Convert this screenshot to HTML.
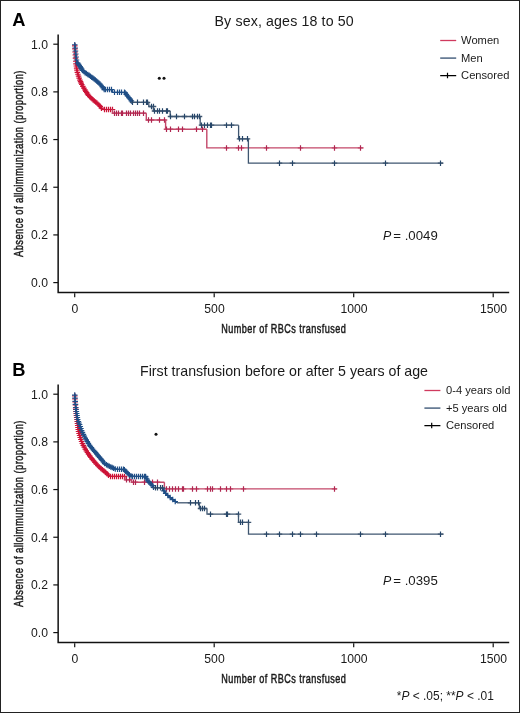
<!DOCTYPE html>
<html><head><meta charset="utf-8"><style>
html,body{margin:0;padding:0;background:#fff;}
body{width:520px;height:713px;overflow:hidden;}
svg{display:block;will-change:transform;}
text{font-family:"Liberation Sans",sans-serif;fill:#1a1a1a;}
.ax{font-size:13.0px;font-weight:normal;stroke:#1a1a1a;stroke-width:0.5px;}
</style></head><body>
<svg width="520" height="713" viewBox="0 0 520 713">
<rect x="0.5" y="0.5" width="519" height="712" fill="#fff" stroke="#222" stroke-width="1"/>
<text x="12.20" y="25.60" style="font-size:18.30px;font-weight:bold;fill:#000">A</text>
<text x="214.50" y="25.80" style="font-size:14.20px" textLength="139.20" lengthAdjust="spacing">By sex, ages 18 to 50</text>
<path d="M58.15 34.50V292.55H509.2" fill="none" stroke="#111" stroke-width="1.5"/>
<path d="M53.3 44.20H58" stroke="#111" stroke-width="1.2"/>
<text x="48.0" y="48.50" style="font-size:12.20px" text-anchor="end">1.0</text>
<path d="M53.3 91.88H58" stroke="#111" stroke-width="1.2"/>
<text x="48.0" y="96.18" style="font-size:12.20px" text-anchor="end">0.8</text>
<path d="M53.3 139.56H58" stroke="#111" stroke-width="1.2"/>
<text x="48.0" y="143.86" style="font-size:12.20px" text-anchor="end">0.6</text>
<path d="M53.3 187.24H58" stroke="#111" stroke-width="1.2"/>
<text x="48.0" y="191.54" style="font-size:12.20px" text-anchor="end">0.4</text>
<path d="M53.3 234.92H58" stroke="#111" stroke-width="1.2"/>
<text x="48.0" y="239.22" style="font-size:12.20px" text-anchor="end">0.2</text>
<path d="M53.3 282.60H58" stroke="#111" stroke-width="1.2"/>
<text x="48.0" y="286.90" style="font-size:12.20px" text-anchor="end">0.0</text>
<path d="M74.70 293.20V297.20" stroke="#111" stroke-width="1.2"/>
<text x="75.00" y="312.70" style="font-size:12.20px" text-anchor="middle">0</text>
<path d="M214.20 293.20V297.20" stroke="#111" stroke-width="1.2"/>
<text x="214.50" y="312.70" style="font-size:12.20px" text-anchor="middle">500</text>
<path d="M353.70 293.20V297.20" stroke="#111" stroke-width="1.2"/>
<text x="354.00" y="312.70" style="font-size:12.20px" text-anchor="middle">1000</text>
<path d="M493.20 293.20V297.20" stroke="#111" stroke-width="1.2"/>
<text x="493.50" y="312.70" style="font-size:12.20px" text-anchor="middle">1500</text>
<text class="ax" letter-spacing="0.65" transform="translate(221.2 332.90) scale(0.7 1)">Number of RBCs transfused</text>
<text class="ax" letter-spacing="0.59" transform="translate(22.9 257.00) rotate(-90) scale(0.72 1)">Absence of alloimmunization (proportion)</text>
<path d="M440.2 40.50h16" stroke="#d03a5e" stroke-width="1.3"/>
<path d="M440.2 58.10h16" stroke="#4d6582" stroke-width="1.5"/>
<path d="M440.2 75.60h16M447.5 72.85v5.5" stroke="#000" stroke-width="1.2"/>
<text x="461.1" y="43.70" style="font-size:11.15px">Women</text>
<text x="461.1" y="61.50" style="font-size:11.15px">Men</text>
<text x="461.1" y="78.60" style="font-size:11.15px">Censored</text>
<text x="383.00" y="240.00" style="font-size:12.40px;font-style:italic">P</text>
<text x="393.30" y="240.00" style="font-size:12.40px" textLength="44.50" lengthAdjust="spacingAndGlyphs">= .0049</text>
<circle cx="159.3" cy="78.2" r="1.5" fill="#111"/>
<circle cx="164.0" cy="78.2" r="1.5" fill="#111"/>
<path d="M74.70 44.20L74.73 44.20L74.73 44.73L74.75 44.73L74.75 45.25L74.78 45.25L74.78 45.78L74.81 45.78L74.81 46.31L74.84 46.31L74.84 46.84L74.86 46.84L74.86 47.36L74.89 47.36L74.89 47.89L74.92 47.89L74.92 48.42L74.95 48.42L74.95 48.95L74.97 48.95L74.97 49.47L75.00 49.47L75.00 50.00L75.03 50.00L75.03 50.50L75.06 50.50L75.06 51.00L75.09 51.00L75.09 51.50L75.11 51.50L75.11 52.00L75.14 52.00L75.14 52.50L75.17 52.50L75.17 53.00L75.20 53.00L75.20 53.50L75.23 53.50L75.23 54.00L75.26 54.00L75.26 54.50L75.29 54.50L75.29 55.00L75.31 55.00L75.31 55.50L75.34 55.50L75.34 56.00L75.37 56.00L75.37 56.50L75.40 56.50L75.40 57.00L75.44 57.00L75.44 57.53L75.48 57.53L75.48 58.07L75.53 58.07L75.53 58.60L75.57 58.60L75.57 59.13L75.61 59.13L75.61 59.67L75.65 59.67L75.65 60.20L75.69 60.20L75.69 60.73L75.73 60.73L75.73 61.27L75.78 61.27L75.78 61.80L75.82 61.80L75.82 62.33L75.86 62.33L75.86 62.87L75.90 62.87L75.90 63.40" fill="none" stroke="#cc1236" stroke-width="1.30"/><path d="M72.03 45.78h5.50M74.78 43.03v5.50M72.20 48.95h5.50M74.95 46.20v5.50M72.36 52.00h5.50M75.11 49.25v5.50M72.54 55.00h5.50M75.29 52.25v5.50M72.73 58.07h5.50M75.48 55.32v5.50M72.98 61.27h5.50M75.73 58.52v5.50" fill="none" stroke="#cc1236" stroke-width="1.20"/><path d="M75.90 63.40L75.90 63.40L75.90 63.40L75.98 63.40L75.98 63.92L76.06 63.92L76.06 64.45L76.14 64.45L76.14 64.97L76.23 64.97L76.23 65.50L76.31 65.50L76.31 66.02L76.39 66.02L76.39 66.55L76.47 66.55L76.47 67.08L76.55 67.08L76.55 67.60L76.63 67.60L76.63 68.12L76.71 68.12L76.71 68.65L76.79 68.65L76.79 69.17L76.88 69.17L76.88 69.70L76.96 69.70L76.96 70.22L77.04 70.22L77.04 70.75L77.12 70.75L77.12 71.27L77.20 71.27L77.20 71.80L77.35 71.80L77.35 72.29L77.50 72.29L77.50 72.77L77.65 72.77L77.65 73.26L77.80 73.26L77.80 73.74L77.95 73.74L77.95 74.23L78.10 74.23L78.10 74.71L78.25 74.71L78.25 75.20L78.40 75.20L78.40 75.69L78.55 75.69L78.55 76.17L78.70 76.17L78.70 76.66L78.85 76.66L78.85 77.14L79.00 77.14L79.00 77.63L79.15 77.63L79.15 78.11L79.30 78.11L79.30 78.60L79.51 78.60L79.51 79.09L79.72 79.09L79.72 79.58L79.92 79.58L79.92 80.07L80.13 80.07L80.13 80.57L80.34 80.57L80.34 81.06L80.55 81.06L80.55 81.55L80.76 81.55L80.76 82.04L80.97 82.04L80.97 82.53L81.17 82.53L81.17 83.03L81.38 83.03L81.38 83.52L81.59 83.52L81.59 84.01L81.80 84.01L81.80 84.50L82.06 84.50L82.06 84.95L82.32 84.95L82.32 85.41L82.58 85.41L82.58 85.86L82.85 85.86L82.85 86.32L83.11 86.32L83.11 86.77L83.37 86.77L83.37 87.22L83.63 87.22L83.63 87.68L83.89 87.68L83.89 88.13L84.15 88.13L84.15 88.58L84.42 88.58L84.42 89.04L84.68 89.04L84.68 89.49L84.94 89.49L84.94 89.95L85.20 89.95L85.20 90.40L85.50 90.40L85.50 90.85L85.80 90.85L85.80 91.31L86.10 91.31L86.10 91.76L86.40 91.76L86.40 92.22L86.70 92.22L86.70 92.67L87.00 92.67L87.00 93.13L87.30 93.13L87.30 93.58L87.60 93.58L87.60 94.04L87.90 94.04L87.90 94.49L88.20 94.49L88.20 94.95L88.50 94.95L88.50 95.40L88.88 95.40L88.88 95.78L89.26 95.78L89.26 96.16L89.65 96.16L89.65 96.55L90.03 96.55L90.03 96.93L90.41 96.93L90.41 97.31L90.79 97.31L90.79 97.69L91.17 97.69L91.17 98.07L91.55 98.07L91.55 98.45L91.94 98.45L91.94 98.84L92.32 98.84L92.32 99.22L92.70 99.22L92.70 99.60L93.12 99.60L93.12 99.94L93.54 99.94L93.54 100.28L93.96 100.28L93.96 100.62L94.38 100.62L94.38 100.96L94.80 100.96L94.80 101.30L95.22 101.30L95.22 101.64L95.64 101.64L95.64 101.98L96.06 101.98L96.06 102.32L96.48 102.32L96.48 102.66L96.90 102.66L96.90 103.00L97.28 103.00L97.28 103.38L97.66 103.38L97.66 103.76L98.03 103.76L98.03 104.13L98.41 104.13L98.41 104.51L98.79 104.51L98.79 104.89L99.17 104.89L99.17 105.27L99.54 105.27L99.54 105.64L99.92 105.64L99.92 106.02L100.30 106.02L100.30 106.40L100.59 106.40L100.59 106.84L100.87 106.84L100.87 107.29L101.16 107.29L101.16 107.73L101.44 107.73L101.44 108.17L101.73 108.17L101.73 108.61L102.01 108.61L102.01 109.06L102.30 109.06L102.30 109.50" fill="none" stroke="#cc1236" stroke-width="1.30"/><path d="M73.23 63.92h5.50M75.98 61.17v5.50M73.56 66.02h5.50M76.31 63.27v5.50M73.88 68.12h5.50M76.63 65.38v5.50M74.21 70.22h5.50M76.96 67.47v5.50M74.60 72.29h5.50M77.35 69.54v5.50M75.20 74.23h5.50M77.95 71.48v5.50M75.80 76.17h5.50M78.55 73.42v5.50M76.40 78.11h5.50M79.15 75.36v5.50M77.17 80.07h5.50M79.92 77.32v5.50M77.80 81.55h5.50M80.55 78.80v5.50M78.42 83.03h5.50M81.17 80.28v5.50M79.05 84.50h5.50M81.80 81.75v5.50M80.10 86.32h5.50M82.85 83.57v5.50M81.14 88.13h5.50M83.89 85.38v5.50M82.19 89.95h5.50M84.94 87.20v5.50M83.05 91.31h5.50M85.80 88.56v5.50M83.95 92.67h5.50M86.70 89.92v5.50M84.85 94.04h5.50M87.60 91.29v5.50M85.75 95.40h5.50M88.50 92.65v5.50M86.90 96.55h5.50M89.65 93.80v5.50M88.04 97.69h5.50M90.79 94.94v5.50M89.19 98.84h5.50M91.94 96.09v5.50M90.37 99.94h5.50M93.12 97.19v5.50M91.63 100.96h5.50M94.38 98.21v5.50M92.89 101.98h5.50M95.64 99.23v5.50M94.15 103.00h5.50M96.90 100.25v5.50M95.28 104.13h5.50M98.03 101.38v5.50M96.42 105.27h5.50M99.17 102.52v5.50M97.55 106.40h5.50M100.30 103.65v5.50M98.69 108.17h5.50M101.44 105.42v5.50" fill="none" stroke="#cc1236" stroke-width="1.20"/><path d="M102.30 109.50L102.30 109.50L102.30 109.50L112.50 109.50" fill="none" stroke="#cc1236" stroke-width="1.30"/><path d="M101.75 109.50h5.50M104.50 106.75v5.50M103.75 109.50h5.50M106.50 106.75v5.50M105.75 109.50h5.50M108.50 106.75v5.50M107.75 109.50h5.50M110.50 106.75v5.50M109.75 109.50h5.50M112.50 106.75v5.50" fill="none" stroke="#cc1236" stroke-width="1.20"/><path d="M112.50 109.50L112.50 109.50L112.50 113.30L146.30 113.30" fill="none" stroke="#c4486a" stroke-width="1.40"/><path d="M111.75 113.30h5.50M113.75 113.30h5.50M115.75 113.30h5.50M118.75 113.30h5.50M119.75 113.30h5.50M123.75 113.30h5.50M125.75 113.30h5.50M127.75 113.30h5.50M130.75 113.30h5.50M132.75 113.30h5.50M134.75 113.30h5.50M136.75 113.30h5.50M140.75 113.30h5.50" fill="none" stroke="#c4486a" stroke-width="1.40"/><path d="M114.50 110.55v5.50M116.50 110.55v5.50M118.50 110.55v5.50M121.50 110.55v5.50M122.50 110.55v5.50M126.50 110.55v5.50M128.50 110.55v5.50M130.50 110.55v5.50M133.50 110.55v5.50M135.50 110.55v5.50M137.50 110.55v5.50M139.50 110.55v5.50M143.50 110.55v5.50" fill="none" stroke="#b02650" stroke-width="1.20"/><path d="M146.30 113.30L146.30 113.30L146.30 120.00L165.60 120.00" fill="none" stroke="#c4486a" stroke-width="1.40"/><path d="M145.75 120.00h5.50M148.75 120.00h5.50M156.75 120.00h5.50M161.75 120.00h5.50" fill="none" stroke="#c4486a" stroke-width="1.40"/><path d="M148.50 117.25v5.50M151.50 117.25v5.50M159.50 117.25v5.50M164.50 117.25v5.50" fill="none" stroke="#b02650" stroke-width="1.20"/><path d="M165.60 120.00L165.60 120.00L165.60 129.30L206.80 129.30" fill="none" stroke="#c4486a" stroke-width="1.40"/><path d="M163.75 129.30h5.50M167.75 129.30h5.50M175.75 129.30h5.50M179.75 129.30h5.50M193.75 129.30h5.50M199.75 129.30h5.50" fill="none" stroke="#c4486a" stroke-width="1.40"/><path d="M166.50 126.55v5.50M170.50 126.55v5.50M178.50 126.55v5.50M182.50 126.55v5.50M196.50 126.55v5.50M202.50 126.55v5.50" fill="none" stroke="#b02650" stroke-width="1.20"/><path d="M206.80 129.30L206.80 129.30L206.80 147.90L363.45 147.90" fill="none" stroke="#c4486a" stroke-width="1.40"/><path d="M223.75 147.90h5.50M235.75 147.90h5.50M238.75 147.90h5.50M263.75 147.90h5.50M297.75 147.90h5.50M331.75 147.90h5.50M357.75 147.90h5.50" fill="none" stroke="#c4486a" stroke-width="1.40"/><path d="M226.50 145.15v5.50M238.50 145.15v5.50M241.50 145.15v5.50M266.50 145.15v5.50M300.50 145.15v5.50M334.50 145.15v5.50M360.50 145.15v5.50" fill="none" stroke="#b02650" stroke-width="1.20"/>
<path d="M74.70 44.20L74.77 44.20L74.77 44.74L74.84 44.74L74.84 45.29L74.91 45.29L74.91 45.83L74.99 45.83L74.99 46.37L75.06 46.37L75.06 46.91L75.13 46.91L75.13 47.46L75.20 47.46L75.20 48.00L75.25 48.00L75.25 48.50L75.30 48.50L75.30 49.00L75.35 49.00L75.35 49.50L75.40 49.50L75.40 50.00L75.45 50.00L75.45 50.50L75.50 50.50L75.50 51.00L75.55 51.00L75.55 51.50L75.60 51.50L75.60 52.00L75.65 52.00L75.65 52.50L75.70 52.50L75.70 53.00L75.75 53.00L75.75 53.50L75.80 53.50L75.80 54.00L75.85 54.00L75.85 54.50L75.90 54.50L75.90 55.00L75.95 55.00L75.95 55.50L76.00 55.50L76.00 56.00L76.06 56.00L76.06 56.50L76.12 56.50L76.12 57.00L76.19 57.00L76.19 57.50L76.25 57.50L76.25 58.00L76.31 58.00L76.31 58.50L76.38 58.50L76.38 59.00L76.44 59.00L76.44 59.50L76.50 59.50L76.50 60.00L76.66 60.00L76.66 60.50L76.82 60.50L76.82 61.00L76.98 61.00L76.98 61.50L77.14 61.50L77.14 62.00L77.30 62.00L77.30 62.50" fill="none" stroke="#1f4e86" stroke-width="1.30"/><path d="M72.02 44.74h5.50M74.77 41.99v5.50M72.45 48.00h5.50M75.20 45.25v5.50M72.75 51.00h5.50M75.50 48.25v5.50M73.05 54.00h5.50M75.80 51.25v5.50M73.38 57.00h5.50M76.12 54.25v5.50M73.75 60.00h5.50M76.50 57.25v5.50" fill="none" stroke="#1f4e86" stroke-width="1.20"/><path d="M77.30 62.50L77.30 62.50L77.30 62.50L77.59 62.50L77.59 62.91L77.88 62.91L77.88 63.33L78.16 63.33L78.16 63.74L78.45 63.74L78.45 64.15L78.74 64.15L78.74 64.56L79.02 64.56L79.02 64.97L79.31 64.97L79.31 65.39L79.60 65.39L79.60 65.80L79.87 65.80L79.87 66.23L80.15 66.23L80.15 66.65L80.42 66.65L80.42 67.08L80.69 67.08L80.69 67.51L80.96 67.51L80.96 67.94L81.24 67.94L81.24 68.36L81.51 68.36L81.51 68.79L81.78 68.79L81.78 69.22L82.05 69.22L82.05 69.65L82.33 69.65L82.33 70.07L82.60 70.07L82.60 70.50L83.01 70.50L83.01 70.86L83.43 70.86L83.43 71.21L83.84 71.21L83.84 71.57L84.26 71.57L84.26 71.93L84.67 71.93L84.67 72.29L85.09 72.29L85.09 72.64L85.50 72.64L85.50 73.00L85.96 73.00L85.96 73.29L86.41 73.29L86.41 73.58L86.87 73.58L86.87 73.87L87.32 73.87L87.32 74.16L87.78 74.16L87.78 74.44L88.23 74.44L88.23 74.73L88.69 74.73L88.69 75.02L89.14 75.02L89.14 75.31L89.60 75.31L89.60 75.60L90.01 75.60L90.01 75.91L90.43 75.91L90.43 76.23L90.84 76.23L90.84 76.54L91.26 76.54L91.26 76.86L91.67 76.86L91.67 77.17L92.09 77.17L92.09 77.49L92.50 77.49L92.50 77.80L92.91 77.80L92.91 78.11L93.33 78.11L93.33 78.43L93.74 78.43L93.74 78.74L94.16 78.74L94.16 79.06L94.57 79.06L94.57 79.37L94.99 79.37L94.99 79.69L95.40 79.69L95.40 80.00L95.78 80.00L95.78 80.34L96.17 80.34L96.17 80.68L96.55 80.68L96.55 81.02L96.94 81.02L96.94 81.35L97.32 81.35L97.32 81.69L97.71 81.69L97.71 82.03L98.09 82.03L98.09 82.37L98.48 82.37L98.48 82.71L98.86 82.71L98.86 83.05L99.25 83.05L99.25 83.38L99.63 83.38L99.63 83.72L100.02 83.72L100.02 84.06L100.40 84.06L100.40 84.40L100.74 84.40L100.74 84.83L101.09 84.83L101.09 85.27L101.43 85.27L101.43 85.70L101.78 85.70L101.78 86.13L102.12 86.13L102.12 86.57L102.47 86.57L102.47 87.00L102.81 87.00L102.81 87.43L103.16 87.43L103.16 87.87L103.50 87.87L103.50 88.30L103.85 88.30L103.85 88.95L104.20 88.95L104.20 89.60" fill="none" stroke="#1f4e86" stroke-width="1.30"/><path d="M74.84 62.91h5.50M77.59 60.16v5.50M75.70 64.15h5.50M78.45 61.40v5.50M76.56 65.39h5.50M79.31 62.64v5.50M77.40 66.65h5.50M80.15 63.90v5.50M78.21 67.94h5.50M80.96 65.19v5.50M79.03 69.22h5.50M81.78 66.47v5.50M79.85 70.50h5.50M82.60 67.75v5.50M81.09 71.57h5.50M83.84 68.82v5.50M82.34 72.64h5.50M85.09 69.89v5.50M83.66 73.58h5.50M86.41 70.83v5.50M85.03 74.44h5.50M87.78 71.69v5.50M86.39 75.31h5.50M89.14 72.56v5.50M87.68 76.23h5.50M90.43 73.48v5.50M88.92 77.17h5.50M91.67 74.42v5.50M90.16 78.11h5.50M92.91 75.36v5.50M91.41 79.06h5.50M94.16 76.31v5.50M92.65 80.00h5.50M95.40 77.25v5.50M93.80 81.02h5.50M96.55 78.27v5.50M94.96 82.03h5.50M97.71 79.28v5.50M96.11 83.05h5.50M98.86 80.30v5.50M97.27 84.06h5.50M100.02 81.31v5.50M98.34 85.27h5.50M101.09 82.52v5.50M99.37 86.57h5.50M102.12 83.82v5.50M100.41 87.87h5.50M103.16 85.12v5.50M101.45 89.60h5.50M104.20 86.85v5.50" fill="none" stroke="#1f4e86" stroke-width="1.20"/><path d="M104.20 89.60L104.20 89.60L104.20 89.60L112.30 89.60" fill="none" stroke="#1f4e86" stroke-width="1.30"/><path d="M102.75 89.60h5.50M105.50 86.85v5.50M104.75 89.60h5.50M107.50 86.85v5.50M106.75 89.60h5.50M109.50 86.85v5.50M108.75 89.60h5.50M111.50 86.85v5.50" fill="none" stroke="#1f4e86" stroke-width="1.20"/><path d="M112.30 89.60L112.30 89.60L112.30 92.30L124.70 92.30" fill="none" stroke="#1f4e86" stroke-width="1.30"/><path d="M111.75 92.30h5.50M114.50 89.55v5.50M114.75 92.30h5.50M117.50 89.55v5.50M116.75 92.30h5.50M119.50 89.55v5.50M118.75 92.30h5.50M121.50 89.55v5.50M121.75 92.30h5.50M124.50 89.55v5.50" fill="none" stroke="#1f4e86" stroke-width="1.20"/><path d="M124.70 92.30L124.70 92.30L124.70 92.30L125.01 92.30L125.01 92.71L125.32 92.71L125.32 93.12L125.63 93.12L125.63 93.53L125.94 93.53L125.94 93.94L126.26 93.94L126.26 94.36L126.57 94.36L126.57 94.77L126.88 94.77L126.88 95.18L127.19 95.18L127.19 95.59L127.50 95.59L127.50 96.00L127.85 96.00L127.85 96.40L128.20 96.40L128.20 96.80L128.55 96.80L128.55 97.20L128.90 97.20L128.90 97.60L129.25 97.60L129.25 98.00L129.60 98.00L129.60 98.40L129.95 98.40L129.95 98.80L130.30 98.80L130.30 99.20L130.65 99.20L130.65 99.60L131.00 99.60L131.00 100.00L131.20 100.00L131.20 100.46L131.40 100.46L131.40 100.92L131.60 100.92L131.60 101.38L131.80 101.38L131.80 101.84L132.00 101.84L132.00 102.30" fill="none" stroke="#1f4e86" stroke-width="1.30"/><path d="M122.26 92.71h5.50M125.01 89.96v5.50M123.51 94.36h5.50M126.26 91.61v5.50M124.75 96.00h5.50M127.50 93.25v5.50M126.15 97.60h5.50M128.90 94.85v5.50M127.55 99.20h5.50M130.30 96.45v5.50M128.65 100.92h5.50M131.40 98.17v5.50" fill="none" stroke="#1f4e86" stroke-width="1.20"/><path d="M132.00 102.30L132.00 102.30L132.00 102.30L148.80 102.30" fill="none" stroke="#3f5670" stroke-width="1.30"/><path d="M129.75 102.30h5.50M134.75 102.30h5.50M140.75 102.30h5.50M143.75 102.30h5.50M144.75 102.30h5.50" fill="none" stroke="#3f5670" stroke-width="1.30"/><path d="M132.50 99.55v5.50M137.50 99.55v5.50M143.50 99.55v5.50M146.50 99.55v5.50M147.50 99.55v5.50" fill="none" stroke="#264669" stroke-width="1.20"/><path d="M148.80 102.30L148.80 102.30L148.80 106.50L153.40 106.50" fill="none" stroke="#3f5670" stroke-width="1.30"/><path d="M148.75 106.50h5.50M150.75 106.50h5.50" fill="none" stroke="#3f5670" stroke-width="1.30"/><path d="M151.50 103.75v5.50M153.50 103.75v5.50" fill="none" stroke="#264669" stroke-width="1.20"/><path d="M153.40 106.50L153.40 106.50L153.40 111.00L170.20 111.00" fill="none" stroke="#3f5670" stroke-width="1.30"/><path d="M151.75 111.00h5.50M154.75 111.00h5.50M156.75 111.00h5.50M159.75 111.00h5.50M163.75 111.00h5.50M164.75 111.00h5.50" fill="none" stroke="#3f5670" stroke-width="1.30"/><path d="M154.50 108.25v5.50M157.50 108.25v5.50M159.50 108.25v5.50M162.50 108.25v5.50M166.50 108.25v5.50M167.50 108.25v5.50" fill="none" stroke="#264669" stroke-width="1.20"/><path d="M170.20 111.00L170.20 111.00L170.20 116.50L200.20 116.50" fill="none" stroke="#3f5670" stroke-width="1.30"/><path d="M167.75 116.50h5.50M173.75 116.50h5.50M181.75 116.50h5.50M189.75 116.50h5.50M191.75 116.50h5.50M194.75 116.50h5.50M196.75 116.50h5.50" fill="none" stroke="#3f5670" stroke-width="1.30"/><path d="M170.50 113.75v5.50M176.50 113.75v5.50M184.50 113.75v5.50M192.50 113.75v5.50M194.50 113.75v5.50M197.50 113.75v5.50M199.50 113.75v5.50" fill="none" stroke="#264669" stroke-width="1.20"/><path d="M200.20 116.50L200.20 116.50L200.20 125.20L238.60 125.20" fill="none" stroke="#3f5670" stroke-width="1.30"/><path d="M198.75 125.20h5.50M201.75 125.20h5.50M204.75 125.20h5.50M207.75 125.20h5.50M208.75 125.20h5.50M223.75 125.20h5.50M228.75 125.20h5.50" fill="none" stroke="#3f5670" stroke-width="1.30"/><path d="M201.50 122.45v5.50M204.50 122.45v5.50M207.50 122.45v5.50M210.50 122.45v5.50M211.50 122.45v5.50M226.50 122.45v5.50M231.50 122.45v5.50" fill="none" stroke="#264669" stroke-width="1.20"/><path d="M238.60 125.20L238.60 125.20L238.60 138.80L248.40 138.80" fill="none" stroke="#3f5670" stroke-width="1.30"/><path d="M236.75 138.80h5.50M239.75 138.80h5.50M244.75 138.80h5.50" fill="none" stroke="#3f5670" stroke-width="1.30"/><path d="M239.50 136.05v5.50M242.50 136.05v5.50M247.50 136.05v5.50" fill="none" stroke="#264669" stroke-width="1.20"/><path d="M248.40 138.80L248.40 138.80L248.40 163.20L443.25 163.20" fill="none" stroke="#3f5670" stroke-width="1.30"/><path d="M276.75 163.20h5.50M289.75 163.20h5.50M331.75 163.20h5.50M382.75 163.20h5.50M437.75 163.20h5.50" fill="none" stroke="#3f5670" stroke-width="1.30"/><path d="M279.50 160.45v5.50M292.50 160.45v5.50M334.50 160.45v5.50M385.50 160.45v5.50M440.50 160.45v5.50" fill="none" stroke="#264669" stroke-width="1.20"/>
<text x="12.20" y="375.60" style="font-size:18.30px;font-weight:bold;fill:#000">B</text>
<text x="140.00" y="375.90" style="font-size:14.20px" textLength="288.00" lengthAdjust="spacing">First transfusion before or after 5 years of age</text>
<path d="M58.15 384.50V642.55H509.2" fill="none" stroke="#111" stroke-width="1.5"/>
<path d="M53.3 394.20H58" stroke="#111" stroke-width="1.2"/>
<text x="48.0" y="398.50" style="font-size:12.20px" text-anchor="end">1.0</text>
<path d="M53.3 441.88H58" stroke="#111" stroke-width="1.2"/>
<text x="48.0" y="446.18" style="font-size:12.20px" text-anchor="end">0.8</text>
<path d="M53.3 489.56H58" stroke="#111" stroke-width="1.2"/>
<text x="48.0" y="493.86" style="font-size:12.20px" text-anchor="end">0.6</text>
<path d="M53.3 537.24H58" stroke="#111" stroke-width="1.2"/>
<text x="48.0" y="541.54" style="font-size:12.20px" text-anchor="end">0.4</text>
<path d="M53.3 584.92H58" stroke="#111" stroke-width="1.2"/>
<text x="48.0" y="589.22" style="font-size:12.20px" text-anchor="end">0.2</text>
<path d="M53.3 632.60H58" stroke="#111" stroke-width="1.2"/>
<text x="48.0" y="636.90" style="font-size:12.20px" text-anchor="end">0.0</text>
<path d="M74.70 643.20V647.20" stroke="#111" stroke-width="1.2"/>
<text x="75.00" y="662.70" style="font-size:12.20px" text-anchor="middle">0</text>
<path d="M214.20 643.20V647.20" stroke="#111" stroke-width="1.2"/>
<text x="214.50" y="662.70" style="font-size:12.20px" text-anchor="middle">500</text>
<path d="M353.70 643.20V647.20" stroke="#111" stroke-width="1.2"/>
<text x="354.00" y="662.70" style="font-size:12.20px" text-anchor="middle">1000</text>
<path d="M493.20 643.20V647.20" stroke="#111" stroke-width="1.2"/>
<text x="493.50" y="662.70" style="font-size:12.20px" text-anchor="middle">1500</text>
<text class="ax" letter-spacing="0.65" transform="translate(221.2 682.90) scale(0.7 1)">Number of RBCs transfused</text>
<text class="ax" letter-spacing="0.59" transform="translate(22.9 607.00) rotate(-90) scale(0.72 1)">Absence of alloimmunization (proportion)</text>
<path d="M424.4 390.50h16" stroke="#d03a5e" stroke-width="1.3"/>
<path d="M424.4 408.10h16" stroke="#4d6582" stroke-width="1.5"/>
<path d="M424.4 425.60h16M431.7 422.85v5.5" stroke="#000" stroke-width="1.2"/>
<text x="446.0" y="393.70" style="font-size:11.15px">0-4 years old</text>
<text x="446.0" y="411.50" style="font-size:11.15px">+5 years old</text>
<text x="446.0" y="428.60" style="font-size:11.15px">Censored</text>
<text x="383.00" y="585.00" style="font-size:12.40px;font-style:italic">P</text>
<text x="393.30" y="585.00" style="font-size:12.40px" textLength="44.50" lengthAdjust="spacingAndGlyphs">= .0395</text>
<circle cx="156.0" cy="434.3" r="1.5" fill="#111"/>
<path d="M74.70 394.50L74.73 394.50L74.73 395.00L74.76 395.00L74.76 395.50L74.79 395.50L74.79 396.00L74.82 396.00L74.82 396.50L74.85 396.50L74.85 397.00L74.88 397.00L74.88 397.50L74.92 397.50L74.92 398.00L74.95 398.00L74.95 398.50L74.98 398.50L74.98 399.00L75.01 399.00L75.01 399.50L75.04 399.50L75.04 400.00L75.07 400.00L75.07 400.50L75.10 400.50L75.10 401.00L75.14 401.00L75.14 401.50L75.18 401.50L75.18 402.00L75.22 402.00L75.22 402.50L75.26 402.50L75.26 403.00L75.30 403.00L75.30 403.50L75.34 403.50L75.34 404.00L75.38 404.00L75.38 404.50L75.42 404.50L75.42 405.00L75.46 405.00L75.46 405.50L75.50 405.50L75.50 406.00L75.53 406.00L75.53 406.50L75.57 406.50L75.57 407.00L75.60 407.00L75.60 407.50L75.63 407.50L75.63 408.00L75.67 408.00L75.67 408.50L75.70 408.50L75.70 409.00" fill="none" stroke="#cc1236" stroke-width="1.30"/><path d="M72.04 396.00h5.50M74.79 393.25v5.50M72.23 399.00h5.50M74.98 396.25v5.50M72.43 402.00h5.50M75.18 399.25v5.50M72.67 405.00h5.50M75.42 402.25v5.50M72.88 408.00h5.50M75.63 405.25v5.50" fill="none" stroke="#cc1236" stroke-width="1.20"/><path d="M75.70 409.00L75.70 409.00L75.70 409.00L75.75 409.00L75.75 409.50L75.80 409.50L75.80 410.00L75.85 410.00L75.85 410.50L75.90 410.50L75.90 411.00L75.95 411.00L75.95 411.50L76.00 411.50L76.00 412.00L76.05 412.00L76.05 412.50L76.10 412.50L76.10 413.00L76.15 413.00L76.15 413.50L76.20 413.50L76.20 414.00L76.25 414.00L76.25 414.50L76.30 414.50L76.30 415.00L76.37 415.00L76.37 415.50L76.44 415.50L76.44 416.00L76.51 416.00L76.51 416.50L76.58 416.50L76.58 417.00L76.65 417.00L76.65 417.50L76.72 417.50L76.72 418.00L76.79 418.00L76.79 418.50L76.86 418.50L76.86 419.00L76.93 419.00L76.93 419.50L77.00 419.50L77.00 420.00L77.06 420.00L77.06 420.50L77.12 420.50L77.12 421.00L77.18 421.00L77.18 421.50L77.24 421.50L77.24 422.00L77.30 422.00L77.30 422.50L77.36 422.50L77.36 423.00L77.42 423.00L77.42 423.50L77.48 423.50L77.48 424.00L77.54 424.00L77.54 424.50L77.60 424.50L77.60 425.00L77.67 425.00L77.67 425.50L77.74 425.50L77.74 426.00L77.81 426.00L77.81 426.50L77.88 426.50L77.88 427.00L77.95 427.00L77.95 427.50L78.02 427.50L78.02 428.00L78.08 428.00L78.08 428.50L78.15 428.50L78.15 429.00L78.22 429.00L78.22 429.50L78.29 429.50L78.29 430.00L78.36 430.00L78.36 430.50L78.43 430.50L78.43 431.00L78.50 431.00L78.50 431.50L78.64 431.50L78.64 432.00L78.78 432.00L78.78 432.50L78.92 432.50L78.92 433.00L79.05 433.00L79.05 433.50L79.19 433.50L79.19 434.00L79.33 434.00L79.33 434.50L79.47 434.50L79.47 435.00L79.61 435.00L79.61 435.50L79.75 435.50L79.75 436.00L79.88 436.00L79.88 436.50L80.02 436.50L80.02 437.00L80.16 437.00L80.16 437.50L80.30 437.50L80.30 438.00L80.48 438.00L80.48 438.50L80.67 438.50L80.67 439.00L80.85 439.00L80.85 439.50L81.03 439.50L81.03 440.00L81.22 440.00L81.22 440.50L81.40 440.50L81.40 441.00L81.58 441.00L81.58 441.50L81.77 441.50L81.77 442.00L81.95 442.00L81.95 442.50L82.13 442.50L82.13 443.00L82.32 443.00L82.32 443.50L82.50 443.50L82.50 444.00L82.75 444.00L82.75 444.46L83.00 444.46L83.00 444.92L83.25 444.92L83.25 445.38L83.50 445.38L83.50 445.83L83.75 445.83L83.75 446.29L84.00 446.29L84.00 446.75L84.25 446.75L84.25 447.21L84.50 447.21L84.50 447.67L84.75 447.67L84.75 448.12L85.00 448.12L85.00 448.58L85.25 448.58L85.25 449.04L85.50 449.04L85.50 449.50L85.77 449.50L85.77 449.93L86.05 449.93L86.05 450.35L86.32 450.35L86.32 450.78L86.59 450.78L86.59 451.21L86.86 451.21L86.86 451.64L87.14 451.64L87.14 452.06L87.41 452.06L87.41 452.49L87.68 452.49L87.68 452.92L87.95 452.92L87.95 453.35L88.23 453.35L88.23 453.77L88.50 453.77L88.50 454.20L88.80 454.20L88.80 454.61L89.10 454.61L89.10 455.02L89.40 455.02L89.40 455.43L89.70 455.43L89.70 455.84L90.00 455.84L90.00 456.25L90.30 456.25L90.30 456.66L90.60 456.66L90.60 457.07L90.90 457.07L90.90 457.48L91.20 457.48L91.20 457.89L91.50 457.89L91.50 458.30L91.84 458.30L91.84 458.71L92.19 458.71L92.19 459.11L92.53 459.11L92.53 459.52L92.87 459.52L92.87 459.93L93.21 459.93L93.21 460.34L93.56 460.34L93.56 460.74L93.90 460.74L93.90 461.15L94.24 461.15L94.24 461.56L94.59 461.56L94.59 461.96L94.93 461.96L94.93 462.37L95.27 462.37L95.27 462.78L95.61 462.78L95.61 463.19L95.96 463.19L95.96 463.59L96.30 463.59L96.30 464.00L96.68 464.00L96.68 464.37L97.05 464.37L97.05 464.74L97.43 464.74L97.43 465.11L97.81 465.11L97.81 465.48L98.18 465.48L98.18 465.85L98.56 465.85L98.56 466.22L98.94 466.22L98.94 466.58L99.32 466.58L99.32 466.95L99.69 466.95L99.69 467.32L100.07 467.32L100.07 467.69L100.45 467.69L100.45 468.06L100.82 468.06L100.82 468.43L101.20 468.43L101.20 468.80L101.60 468.80L101.60 469.12L102.00 469.12L102.00 469.45L102.40 469.45L102.40 469.77L102.80 469.77L102.80 470.10L103.20 470.10L103.20 470.43L103.60 470.43L103.60 470.75L104.00 470.75L104.00 471.07L104.40 471.07L104.40 471.40L104.80 471.40L104.80 471.73L105.20 471.73L105.20 472.05L105.60 472.05L105.60 472.38L106.00 472.38L106.00 472.70L106.35 472.70L106.35 473.06L106.70 473.06L106.70 473.43L107.05 473.43L107.05 473.79L107.40 473.79L107.40 474.15L107.75 474.15L107.75 474.51L108.10 474.51L108.10 474.88L108.45 474.88L108.45 475.24L108.80 475.24L108.80 475.60L109.15 475.60L109.15 476.00L109.50 476.00L109.50 476.40" fill="none" stroke="#cc1236" stroke-width="1.30"/><path d="M73.00 409.50h5.50M75.75 406.75v5.50M73.20 411.50h5.50M75.95 408.75v5.50M73.40 413.50h5.50M76.15 410.75v5.50M73.62 415.50h5.50M76.37 412.75v5.50M73.90 417.50h5.50M76.65 414.75v5.50M74.18 419.50h5.50M76.93 416.75v5.50M74.43 421.50h5.50M77.18 418.75v5.50M74.67 423.50h5.50M77.42 420.75v5.50M74.92 425.50h5.50M77.67 422.75v5.50M75.20 427.50h5.50M77.95 424.75v5.50M75.47 429.50h5.50M78.22 426.75v5.50M75.75 431.50h5.50M78.50 428.75v5.50M76.30 433.50h5.50M79.05 430.75v5.50M76.86 435.50h5.50M79.61 432.75v5.50M77.41 437.50h5.50M80.16 434.75v5.50M78.10 439.50h5.50M80.85 436.75v5.50M78.83 441.50h5.50M81.58 438.75v5.50M79.57 443.50h5.50M82.32 440.75v5.50M80.50 445.38h5.50M83.25 442.62v5.50M81.50 447.21h5.50M84.25 444.46v5.50M82.50 449.04h5.50M85.25 446.29v5.50M83.57 450.78h5.50M86.32 448.03v5.50M84.66 452.49h5.50M87.41 449.74v5.50M85.75 454.20h5.50M88.50 451.45v5.50M86.95 455.84h5.50M89.70 453.09v5.50M88.15 457.48h5.50M90.90 454.73v5.50M89.44 459.11h5.50M92.19 456.36v5.50M90.81 460.74h5.50M93.56 457.99v5.50M92.18 462.37h5.50M94.93 459.62v5.50M93.55 464.00h5.50M96.30 461.25v5.50M95.06 465.48h5.50M97.81 462.73v5.50M96.57 466.95h5.50M99.32 464.20v5.50M98.07 468.43h5.50M100.82 465.68v5.50M99.65 469.77h5.50M102.40 467.02v5.50M101.25 471.07h5.50M104.00 468.32v5.50M102.85 472.38h5.50M105.60 469.62v5.50M104.30 473.79h5.50M107.05 471.04v5.50M105.70 475.24h5.50M108.45 472.49v5.50" fill="none" stroke="#cc1236" stroke-width="1.20"/><path d="M109.50 476.40L109.50 476.40L109.50 476.40L125.00 476.40" fill="none" stroke="#cc1236" stroke-width="1.30"/><path d="M107.75 476.40h5.50M110.50 473.65v5.50M109.75 476.40h5.50M112.50 473.65v5.50M111.75 476.40h5.50M114.50 473.65v5.50M113.75 476.40h5.50M116.50 473.65v5.50M115.75 476.40h5.50M118.50 473.65v5.50M117.75 476.40h5.50M120.50 473.65v5.50M119.75 476.40h5.50M122.50 473.65v5.50M121.75 476.40h5.50M124.50 473.65v5.50" fill="none" stroke="#cc1236" stroke-width="1.20"/><path d="M125.00 476.40L125.00 476.40L125.00 479.80L131.50 479.80" fill="none" stroke="#c4486a" stroke-width="1.40"/><path d="M123.75 479.80h5.50M126.75 479.80h5.50" fill="none" stroke="#c4486a" stroke-width="1.40"/><path d="M126.50 477.05v5.50M129.50 477.05v5.50" fill="none" stroke="#b02650" stroke-width="1.20"/><path d="M131.50 479.80L131.50 479.80L131.50 482.30L164.40 482.30" fill="none" stroke="#c4486a" stroke-width="1.40"/><path d="M130.75 482.30h5.50M132.75 482.30h5.50M141.75 482.30h5.50M149.75 482.30h5.50M154.75 482.30h5.50" fill="none" stroke="#c4486a" stroke-width="1.40"/><path d="M133.50 479.55v5.50M135.50 479.55v5.50M144.50 479.55v5.50M152.50 479.55v5.50M157.50 479.55v5.50" fill="none" stroke="#b02650" stroke-width="1.20"/><path d="M164.40 482.30L164.40 482.30L164.40 488.90L337.05 488.90" fill="none" stroke="#c4486a" stroke-width="1.40"/><path d="M163.75 488.90h5.50M166.75 488.90h5.50M169.75 488.90h5.50M172.75 488.90h5.50M175.75 488.90h5.50M179.75 488.90h5.50M180.75 488.90h5.50M189.75 488.90h5.50M193.75 488.90h5.50M204.75 488.90h5.50M207.75 488.90h5.50M209.75 488.90h5.50M217.75 488.90h5.50M223.75 488.90h5.50M227.75 488.90h5.50M240.75 488.90h5.50M331.75 488.90h5.50" fill="none" stroke="#c4486a" stroke-width="1.40"/><path d="M166.50 486.15v5.50M169.50 486.15v5.50M172.50 486.15v5.50M175.50 486.15v5.50M178.50 486.15v5.50M182.50 486.15v5.50M183.50 486.15v5.50M192.50 486.15v5.50M196.50 486.15v5.50M207.50 486.15v5.50M210.50 486.15v5.50M212.50 486.15v5.50M220.50 486.15v5.50M226.50 486.15v5.50M230.50 486.15v5.50M243.50 486.15v5.50M334.50 486.15v5.50" fill="none" stroke="#b02650" stroke-width="1.20"/>
<path d="M74.70 394.50L74.74 394.50L74.74 395.03L74.78 395.03L74.78 395.56L74.82 395.56L74.82 396.09L74.85 396.09L74.85 396.62L74.89 396.62L74.89 397.15L74.93 397.15L74.93 397.68L74.97 397.68L74.97 398.22L75.01 398.22L75.01 398.75L75.05 398.75L75.05 399.28L75.08 399.28L75.08 399.81L75.12 399.81L75.12 400.34L75.16 400.34L75.16 400.87L75.20 400.87L75.20 401.40L75.24 401.40L75.24 401.91L75.29 401.91L75.29 402.42L75.33 402.42L75.33 402.93L75.38 402.93L75.38 403.44L75.42 403.44L75.42 403.96L75.47 403.96L75.47 404.47L75.51 404.47L75.51 404.98L75.56 404.98L75.56 405.49L75.60 405.49L75.60 406.00L75.67 406.00L75.67 406.50L75.73 406.50L75.73 407.00L75.80 407.00L75.80 407.50L75.87 407.50L75.87 408.00L75.93 408.00L75.93 408.50L76.00 408.50L76.00 409.00" fill="none" stroke="#1f4e86" stroke-width="1.30"/><path d="M71.99 395.03h5.50M74.74 392.28v5.50M72.22 398.22h5.50M74.97 395.47v5.50M72.45 401.40h5.50M75.20 398.65v5.50M72.72 404.47h5.50M75.47 401.72v5.50M73.05 407.50h5.50M75.80 404.75v5.50" fill="none" stroke="#1f4e86" stroke-width="1.20"/><path d="M76.00 409.00L76.00 409.00L76.00 409.00L76.08 409.00L76.08 409.50L76.16 409.50L76.16 410.00L76.24 410.00L76.24 410.50L76.32 410.50L76.32 411.00L76.40 411.00L76.40 411.50L76.48 411.50L76.48 412.00L76.56 412.00L76.56 412.50L76.64 412.50L76.64 413.00L76.72 413.00L76.72 413.50L76.80 413.50L76.80 414.00L76.88 414.00L76.88 414.50L76.97 414.50L76.97 415.00L77.05 415.00L77.05 415.50L77.13 415.50L77.13 416.00L77.22 416.00L77.22 416.50L77.30 416.50L77.30 417.00L77.38 417.00L77.38 417.50L77.47 417.50L77.47 418.00L77.55 418.00L77.55 418.50L77.63 418.50L77.63 419.00L77.72 419.00L77.72 419.50L77.80 419.50L77.80 420.00L78.00 420.00L78.00 420.50L78.20 420.50L78.20 421.00L78.40 421.00L78.40 421.50L78.60 421.50L78.60 422.00L78.80 422.00L78.80 422.50L79.00 422.50L79.00 423.00L79.20 423.00L79.20 423.50L79.40 423.50L79.40 424.00L79.60 424.00L79.60 424.50L79.77 424.50L79.77 425.00L79.94 425.00L79.94 425.50L80.11 425.50L80.11 426.00L80.29 426.00L80.29 426.50L80.46 426.50L80.46 427.00L80.63 427.00L80.63 427.50L80.80 427.50L80.80 428.00L80.97 428.00L80.97 428.50L81.14 428.50L81.14 429.00L81.31 429.00L81.31 429.50L81.49 429.50L81.49 430.00L81.66 430.00L81.66 430.50L81.83 430.50L81.83 431.00L82.00 431.00L82.00 431.50L82.23 431.50L82.23 431.97L82.47 431.97L82.47 432.43L82.70 432.43L82.70 432.90L82.93 432.90L82.93 433.37L83.17 433.37L83.17 433.83L83.40 433.83L83.40 434.30L83.63 434.30L83.63 434.77L83.87 434.77L83.87 435.23L84.10 435.23L84.10 435.70L84.33 435.70L84.33 436.17L84.57 436.17L84.57 436.63L84.80 436.63L84.80 437.10L85.03 437.10L85.03 437.57L85.27 437.57L85.27 438.03L85.50 438.03L85.50 438.50L85.76 438.50L85.76 438.94L86.03 438.94L86.03 439.38L86.29 439.38L86.29 439.81L86.55 439.81L86.55 440.25L86.81 440.25L86.81 440.69L87.08 440.69L87.08 441.12L87.34 441.12L87.34 441.56L87.60 441.56L87.60 442.00L87.86 442.00L87.86 442.44L88.12 442.44L88.12 442.88L88.39 442.88L88.39 443.31L88.65 443.31L88.65 443.75L88.91 443.75L88.91 444.19L89.17 444.19L89.17 444.62L89.44 444.62L89.44 445.06L89.70 445.06L89.70 445.50L90.05 445.50L90.05 445.94L90.40 445.94L90.40 446.38L90.75 446.38L90.75 446.81L91.10 446.81L91.10 447.25L91.45 447.25L91.45 447.69L91.80 447.69L91.80 448.12L92.15 448.12L92.15 448.56L92.50 448.56L92.50 449.00L92.85 449.00L92.85 449.41L93.19 449.41L93.19 449.82L93.54 449.82L93.54 450.23L93.88 450.23L93.88 450.64L94.23 450.64L94.23 451.05L94.57 451.05L94.57 451.45L94.92 451.45L94.92 451.86L95.26 451.86L95.26 452.27L95.61 452.27L95.61 452.68L95.95 452.68L95.95 453.09L96.30 453.09L96.30 453.50L96.63 453.50L96.63 453.88L96.95 453.88L96.95 454.26L97.28 454.26L97.28 454.64L97.61 454.64L97.61 455.02L97.93 455.02L97.93 455.40L98.26 455.40L98.26 455.78L98.59 455.78L98.59 456.16L98.91 456.16L98.91 456.54L99.24 456.54L99.24 456.92L99.57 456.92L99.57 457.30L99.89 457.30L99.89 457.68L100.22 457.68L100.22 458.06L100.55 458.06L100.55 458.44L100.87 458.44L100.87 458.82L101.20 458.82L101.20 459.20L101.52 459.20L101.52 459.60L101.83 459.60L101.83 460.00L102.15 460.00L102.15 460.40L102.47 460.40L102.47 460.80L102.78 460.80L102.78 461.20L103.10 461.20L103.10 461.60L103.42 461.60L103.42 462.00L103.73 462.00L103.73 462.40L104.05 462.40L104.05 462.80L104.37 462.80L104.37 463.20L104.68 463.20L104.68 463.60L105.00 463.60L105.00 464.00L105.48 464.00L105.48 464.24L105.96 464.24L105.96 464.48L106.44 464.48L106.44 464.72L106.92 464.72L106.92 464.96L107.40 464.96L107.40 465.20L107.88 465.20L107.88 465.44L108.36 465.44L108.36 465.68L108.84 465.68L108.84 465.92L109.32 465.92L109.32 466.16L109.80 466.16L109.80 466.40L110.28 466.40L110.28 466.64L110.76 466.64L110.76 466.88L111.24 466.88L111.24 467.12L111.72 467.12L111.72 467.36L112.20 467.36L112.20 467.60L112.68 467.60L112.68 467.84L113.16 467.84L113.16 468.08L113.64 468.08L113.64 468.32L114.12 468.32L114.12 468.56L114.60 468.56L114.60 468.80L115.30 468.80L115.30 469.05L116.00 469.05L116.00 469.30" fill="none" stroke="#1f4e86" stroke-width="1.30"/><path d="M73.33 409.50h5.50M76.08 406.75v5.50M73.65 411.50h5.50M76.40 408.75v5.50M73.97 413.50h5.50M76.72 410.75v5.50M74.30 415.50h5.50M77.05 412.75v5.50M74.63 417.50h5.50M77.38 414.75v5.50M74.97 419.50h5.50M77.72 416.75v5.50M75.65 421.50h5.50M78.40 418.75v5.50M76.25 423.00h5.50M79.00 420.25v5.50M76.85 424.50h5.50M79.60 421.75v5.50M77.54 426.50h5.50M80.29 423.75v5.50M78.22 428.50h5.50M80.97 425.75v5.50M78.91 430.50h5.50M81.66 427.75v5.50M79.72 432.43h5.50M82.47 429.68v5.50M80.65 434.30h5.50M83.40 431.55v5.50M81.58 436.17h5.50M84.33 433.42v5.50M82.52 438.03h5.50M85.27 435.28v5.50M83.54 439.81h5.50M86.29 437.06v5.50M84.59 441.56h5.50M87.34 438.81v5.50M85.64 443.31h5.50M88.39 440.56v5.50M86.69 445.06h5.50M89.44 442.31v5.50M87.65 446.38h5.50M90.40 443.62v5.50M88.70 447.69h5.50M91.45 444.94v5.50M89.75 449.00h5.50M92.50 446.25v5.50M90.79 450.23h5.50M93.54 447.48v5.50M91.82 451.45h5.50M94.57 448.70v5.50M92.86 452.68h5.50M95.61 449.93v5.50M94.20 454.26h5.50M96.95 451.51v5.50M95.51 455.78h5.50M98.26 453.03v5.50M96.82 457.30h5.50M99.57 454.55v5.50M98.12 458.82h5.50M100.87 456.07v5.50M99.40 460.40h5.50M102.15 457.65v5.50M100.67 462.00h5.50M103.42 459.25v5.50M101.93 463.60h5.50M104.68 460.85v5.50M103.69 464.72h5.50M106.44 461.97v5.50M105.13 465.44h5.50M107.88 462.69v5.50M106.57 466.16h5.50M109.32 463.41v5.50M108.01 466.88h5.50M110.76 464.13v5.50M109.45 467.60h5.50M112.20 464.85v5.50M110.89 468.32h5.50M113.64 465.57v5.50M112.55 469.05h5.50M115.30 466.30v5.50" fill="none" stroke="#1f4e86" stroke-width="1.20"/><path d="M116.00 469.30L116.00 469.30L116.00 469.30L124.00 469.30" fill="none" stroke="#1f4e86" stroke-width="1.30"/><path d="M114.75 469.30h5.50M117.50 466.55v5.50M116.75 469.30h5.50M119.50 466.55v5.50M118.75 469.30h5.50M121.50 466.55v5.50M120.75 469.30h5.50M123.50 466.55v5.50" fill="none" stroke="#1f4e86" stroke-width="1.20"/><path d="M124.00 469.30L124.00 469.30L124.00 469.30L124.40 469.30L124.40 469.80L124.80 469.80L124.80 470.30L125.20 470.30L125.20 470.80L125.65 470.80L125.65 471.23L126.10 471.23L126.10 471.65L126.55 471.65L126.55 472.07L127.00 472.07L127.00 472.50L127.40 472.50L127.40 472.92L127.80 472.92L127.80 473.34L128.20 473.34L128.20 473.76L128.60 473.76L128.60 474.18L129.00 474.18L129.00 474.60L129.42 474.60L129.42 474.90L129.83 474.90L129.83 475.20L130.25 475.20L130.25 475.50L130.67 475.50L130.67 475.80L131.08 475.80L131.08 476.10L131.50 476.10L131.50 476.40" fill="none" stroke="#1f4e86" stroke-width="1.30"/><path d="M121.65 469.80h5.50M124.40 467.05v5.50M122.90 471.23h5.50M125.65 468.48v5.50M124.25 472.50h5.50M127.00 469.75v5.50M125.45 473.76h5.50M128.20 471.01v5.50M126.67 474.90h5.50M129.42 472.15v5.50M128.33 476.10h5.50M131.08 473.35v5.50" fill="none" stroke="#1f4e86" stroke-width="1.20"/><path d="M131.50 476.40L131.50 476.40L131.50 476.40L145.40 476.40" fill="none" stroke="#1f4e86" stroke-width="1.30"/><path d="M129.75 476.40h5.50M132.50 473.65v5.50M131.75 476.40h5.50M134.50 473.65v5.50M133.75 476.40h5.50M136.50 473.65v5.50M135.75 476.40h5.50M138.50 473.65v5.50M137.75 476.40h5.50M140.50 473.65v5.50M139.75 476.40h5.50M142.50 473.65v5.50M141.75 476.40h5.50M144.50 473.65v5.50M142.75 476.40h5.50M145.50 473.65v5.50" fill="none" stroke="#1f4e86" stroke-width="1.20"/><path d="M145.40 476.40L145.40 476.40L145.40 476.60L145.66 476.60L145.66 477.07L145.91 477.07L145.91 477.53L146.17 477.53L146.17 478.00L146.42 478.00L146.42 478.47L146.68 478.47L146.68 478.93L146.93 478.93L146.93 479.40L147.19 479.40L147.19 479.87L147.44 479.87L147.44 480.33L147.70 480.33L147.70 480.80L148.08 480.80L148.08 481.18L148.46 481.18L148.46 481.56L148.84 481.56L148.84 481.94L149.22 481.94L149.22 482.32L149.60 482.32L149.60 482.70L149.98 482.70L149.98 483.08L150.36 483.08L150.36 483.46L150.74 483.46L150.74 483.84L151.12 483.84L151.12 484.22L151.50 484.22L151.50 484.60L151.83 484.60L151.83 485.06L152.16 485.06L152.16 485.51L152.49 485.51L152.49 485.97L152.81 485.97L152.81 486.43L153.14 486.43L153.14 486.89L153.47 486.89L153.47 487.34L153.80 487.34L153.80 487.80" fill="none" stroke="#1f4e86" stroke-width="1.30"/><path d="M142.91 477.07h5.50M145.66 474.32v5.50M143.93 478.93h5.50M146.68 476.18v5.50M144.95 480.80h5.50M147.70 478.05v5.50M146.47 482.32h5.50M149.22 479.57v5.50M147.99 483.84h5.50M150.74 481.09v5.50M149.41 485.51h5.50M152.16 482.76v5.50M150.72 487.34h5.50M153.47 484.59v5.50" fill="none" stroke="#1f4e86" stroke-width="1.20"/><path d="M162.30 487.80L162.30 487.80L162.30 487.80L162.53 487.80L162.53 488.25L162.76 488.25L162.76 488.70L162.99 488.70L162.99 489.15L163.22 489.15L163.22 489.60L163.45 489.60L163.45 490.05L163.68 490.05L163.68 490.50L163.91 490.50L163.91 490.95L164.14 490.95L164.14 491.40L164.37 491.40L164.37 491.85L164.60 491.85L164.60 492.30L164.95 492.30L164.95 492.65L165.31 492.65L165.31 493.01L165.66 493.01L165.66 493.36L166.02 493.36L166.02 493.72L166.37 493.72L166.37 494.07L166.73 494.07L166.73 494.43L167.08 494.43L167.08 494.78L167.44 494.78L167.44 495.14L167.79 495.14L167.79 495.49L168.15 495.49L168.15 495.85L168.50 495.85L168.50 496.20L168.92 496.20L168.92 496.53L169.34 496.53L169.34 496.87L169.77 496.87L169.77 497.20L170.19 497.20L170.19 497.53L170.61 497.53L170.61 497.87L171.03 497.87L171.03 498.20L171.46 498.20L171.46 498.53L171.88 498.53L171.88 498.87L172.30 498.87L172.30 499.20L172.72 499.20L172.72 499.53L173.14 499.53L173.14 499.85L173.55 499.85L173.55 500.18L173.97 500.18L173.97 500.51L174.39 500.51L174.39 500.84L174.81 500.84L174.81 501.16L175.23 501.16L175.23 501.49L175.65 501.49L175.65 501.82L176.06 501.82L176.06 502.15L176.48 502.15L176.48 502.47L176.90 502.47L176.90 502.80" fill="none" stroke="#1f4e86" stroke-width="1.30"/><path d="M159.78 488.25h5.50M162.53 485.50v5.50M161.16 490.95h5.50M163.91 488.20v5.50M162.91 493.36h5.50M165.66 490.61v5.50M165.04 495.49h5.50M167.79 492.74v5.50M167.44 497.53h5.50M170.19 494.78v5.50M169.97 499.53h5.50M172.72 496.78v5.50M172.48 501.49h5.50M175.23 498.74v5.50" fill="none" stroke="#1f4e86" stroke-width="1.20"/><path d="M153.80 487.80L153.80 487.80L153.80 487.80L162.30 487.80" fill="none" stroke="#3f5670" stroke-width="1.30"/><path d="M152.75 487.80h5.50M154.75 487.80h5.50M157.75 487.80h5.50M159.75 487.80h5.50" fill="none" stroke="#3f5670" stroke-width="1.30"/><path d="M155.50 485.05v5.50M157.50 485.05v5.50M160.50 485.05v5.50M162.50 485.05v5.50" fill="none" stroke="#264669" stroke-width="1.20"/><path d="M176.90 502.80L177.00 502.80L177.00 502.80L199.40 502.80" fill="none" stroke="#3f5670" stroke-width="1.30"/><path d="M187.75 502.80h5.50M192.75 502.80h5.50M195.75 502.80h5.50" fill="none" stroke="#3f5670" stroke-width="1.30"/><path d="M190.50 500.05v5.50M195.50 500.05v5.50M198.50 500.05v5.50" fill="none" stroke="#264669" stroke-width="1.20"/><path d="M199.40 502.80L199.40 502.80L199.40 508.50L207.00 508.50" fill="none" stroke="#3f5670" stroke-width="1.30"/><path d="M197.75 508.50h5.50M199.75 508.50h5.50M201.75 508.50h5.50" fill="none" stroke="#3f5670" stroke-width="1.30"/><path d="M200.50 505.75v5.50M202.50 505.75v5.50M204.50 505.75v5.50" fill="none" stroke="#264669" stroke-width="1.20"/><path d="M207.00 508.50L207.00 508.50L207.00 514.20L238.50 514.20" fill="none" stroke="#3f5670" stroke-width="1.30"/><path d="M207.75 514.20h5.50M223.75 514.20h5.50M224.75 514.20h5.50M235.75 514.20h5.50" fill="none" stroke="#3f5670" stroke-width="1.30"/><path d="M210.50 511.45v5.50M226.50 511.45v5.50M227.50 511.45v5.50M238.50 511.45v5.50" fill="none" stroke="#264669" stroke-width="1.20"/><path d="M238.50 514.20L238.50 514.20L238.50 522.30L248.50 522.30" fill="none" stroke="#3f5670" stroke-width="1.30"/><path d="M237.75 522.30h5.50M239.75 522.30h5.50M245.75 522.30h5.50" fill="none" stroke="#3f5670" stroke-width="1.30"/><path d="M240.50 519.55v5.50M242.50 519.55v5.50M248.50 519.55v5.50" fill="none" stroke="#264669" stroke-width="1.20"/><path d="M248.50 522.30L248.50 522.30L248.50 534.20L443.55 534.20" fill="none" stroke="#3f5670" stroke-width="1.30"/><path d="M263.75 534.20h5.50M276.75 534.20h5.50M289.75 534.20h5.50M297.75 534.20h5.50M313.75 534.20h5.50M357.75 534.20h5.50M382.75 534.20h5.50M437.75 534.20h5.50" fill="none" stroke="#3f5670" stroke-width="1.30"/><path d="M266.50 531.45v5.50M279.50 531.45v5.50M292.50 531.45v5.50M300.50 531.45v5.50M316.50 531.45v5.50M360.50 531.45v5.50M385.50 531.45v5.50M440.50 531.45v5.50" fill="none" stroke="#264669" stroke-width="1.20"/>
<text x="396.80" y="699.60" style="font-size:12.00px" textLength="97.00" lengthAdjust="spacingAndGlyphs">*<tspan font-style="italic">P</tspan> &lt; .05; **<tspan font-style="italic">P</tspan> &lt; .01</text>
</svg>
</body></html>
